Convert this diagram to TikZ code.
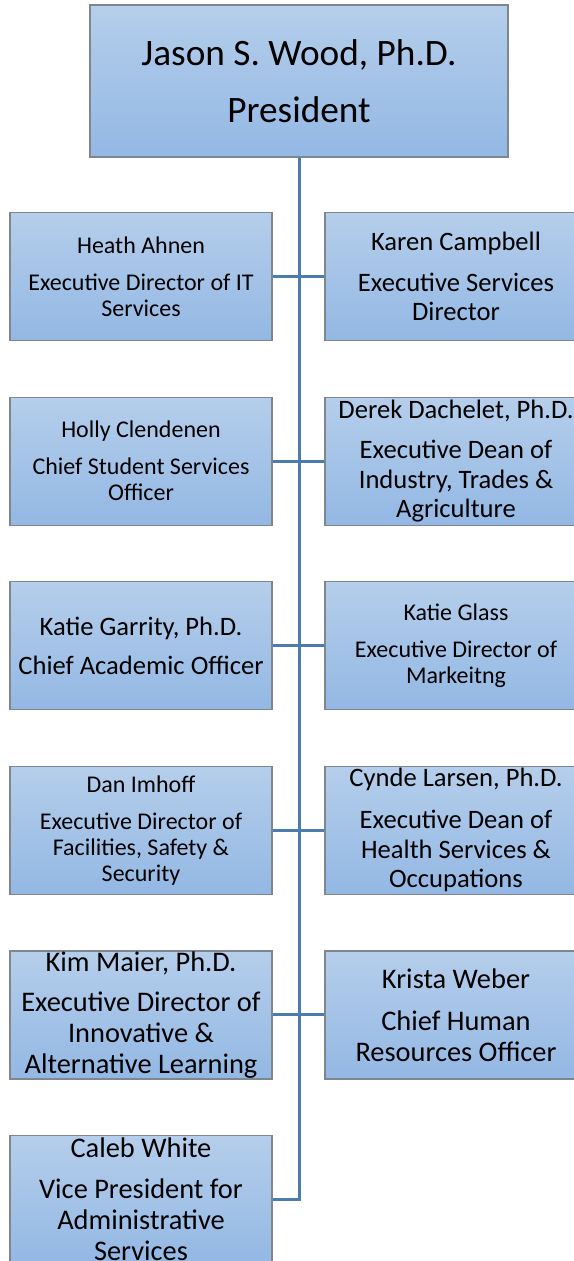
\documentclass[tikz,border=0pt]{standalone}
\usepackage{fontspec}
\setmainfont{Carlito}
\usetikzlibrary{positioning}

\definecolor{boxtop}{RGB}{181,206,235}
\definecolor{boxbot}{RGB}{147,184,228}
\definecolor{boxline}{RGB}{128,134,142}
\definecolor{spine}{RGB}{74,124,176}

\tikzset{
  role/.style={draw=boxline, line width=1.2pt, top color=boxtop, bottom color=boxbot,
    minimum width=262pt, minimum height=128pt, align=center, inner sep=0pt},
  smalltxt/.style={font=\fontsize{24}{26}\selectfont},
  midtxt/.style={font=\fontsize{26.6}{29.5}\selectfont},
  bigtxt/.style={font=\fontsize{28.4}{31}\selectfont},
  link/.style={draw=spine, line width=3pt},
}

\begin{document}
\begin{tikzpicture}[x=1pt,y=-1pt]
        \useasboundingbox (0,0) rectangle (573,1261);

        \node[role, minimum width=418pt, minimum height=152pt, font=\fontsize{37.3}{44}\selectfont] (President) at (299,81) {Jason S. Wood, Ph.D.\\[13pt]President};

        \node[role, smalltxt] (Heath) at (141,276.5) {Heath Ahnen\\[11pt]Executive Director of IT\\Services};
        \node[role, midtxt] (Karen) at (456,276.5) {Karen Campbell\\[11.5pt]Executive Services\\Director};

        \node[role, smalltxt, below=55.4pt of Heath] (Holly) {Holly Clendenen\\[11pt]Chief Student Services\\Officer};
        \node[role, midtxt, below=55.4pt of Karen] (Derek) {Derek Dachelet, Ph.D.\\[10.5pt]Executive Dean of\\Industry, Trades \&\\Agriculture};

        \node[role, midtxt, below=55.4pt of Holly] (KatieGarrity) {Katie Garrity, Ph.D.\\[9.5pt]Chief Academic Officer};
        \node[role, smalltxt, below=55.4pt of Derek] (KatieGlass) {Katie Glass\\[11pt]Executive Director of\\Markeitng};

        \node[role, smalltxt, below=55.4pt of KatieGarrity] (Dan) {Dan Imhoff\\[11pt]Executive Director of\\Facilities, Safety \&\\Security};
        \node[role, midtxt, below=55.4pt of KatieGlass] (Cynde) {Cynde Larsen, Ph.D.\\[12.5pt]Executive Dean of\\Health Services \&\\Occupations};

        \node[role, bigtxt, below=55.4pt of Dan] (Kim) {Kim Maier, Ph.D.\\[9pt]Executive Director of\\Innovative \&\\Alternative Learning};
        \node[role, bigtxt, below=55.4pt of Cynde] (Krista) {Krista Weber\\[11pt]Chief Human\\Resources Officer};

        \node[role, bigtxt, below=55.4pt of Kim] (Caleb) {Caleb White\\[10pt]Vice President for\\Administrative\\Services};

        % spine from the president down to the last box
        \coordinate (SpineEnd) at (President.south |- Caleb.east);
        \draw[link] (President.south) -- (SpineEnd) -- (Caleb.east);

        % branches
        \draw[link] (Heath.east) -- (Karen.west);
        \draw[link] (Holly.east) -- (Derek.west);
        \draw[link] (KatieGarrity.east) -- (KatieGlass.west);
        \draw[link] (Dan.east) -- (Cynde.west);
        \draw[link] (Kim.east) -- (Krista.west);
\end{tikzpicture}
\end{document}
